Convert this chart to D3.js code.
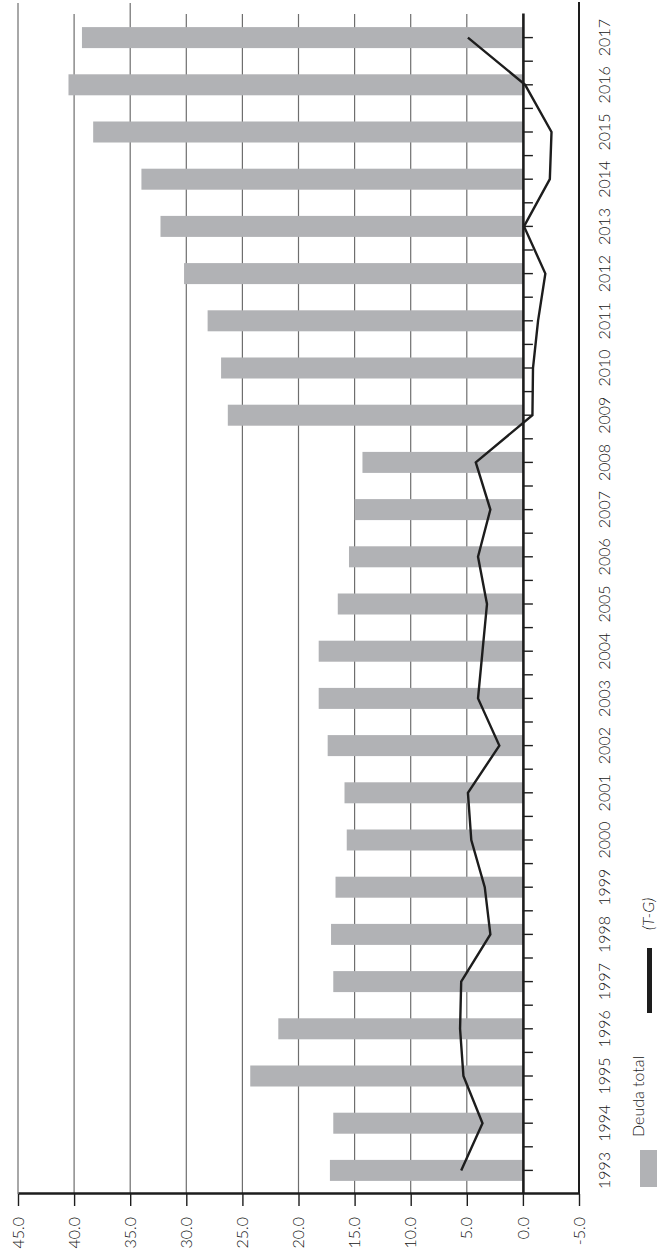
<!DOCTYPE html>
<html>
<head>
<meta charset="utf-8">
<script src="https://cdn.jsdelivr.net/npm/d3@7"></script>
<style>
  html, body { margin: 0; padding: 0; background: #fff; }
  svg { display: block; }
  text { font-family: Lato, "Open Sans", sans-serif; font-weight: 300; fill: #151515; }
</style>
</head>
<body>
<svg id="chart" width="657" height="1260"></svg>
<script>
// Years on the category axis
const years = ["1993","1994","1995","1996","1997","1998","1999","2000","2001","2002","2003","2004","2005",
               "2006","2007","2008","2009","2010","2011","2012","2013","2014","2015","2016","2017"];
// Deuda total (bars)
const deuda = [17.2, 16.9, 24.3, 21.8, 16.9, 17.1, 16.7, 15.7, 15.9, 17.4, 18.2, 18.2, 16.5,
               15.5, 15.0, 14.3, 26.3, 26.9, 28.1, 30.2, 32.3, 34.0, 38.3, 40.5, 39.3];
// (T-G) balance (line)
const tg = [5.5, 3.6, 5.3, 5.6, 5.5, 2.9, 3.4, 4.6, 4.9, 2.1, 4.0, 3.6, 3.2,
            4.0, 2.9, 4.2, -0.85, -0.9, -1.35, -2.0, -0.1, -2.4, -2.55, -0.2, 4.9];
// Value-axis ticks
const valueTicks = [45, 40, 35, 30, 25, 20, 15, 10, 5, 0, -5];
// Legend entries
const legendBar = "Deuda total";
const legendLine = "(T-G)";

const W = 657, H = 1260;
const svg = d3.select("#chart");

// The whole chart is laid out sideways: build it in a 1260x657 frame and turn it a quarter turn.
const g = svg.append("g").attr("transform", `translate(0,${H}) rotate(-90)`);

const x = d3.scaleBand().domain(years).range([66, 1246]).paddingInner(0.555).paddingOuter(0.2775);
const y = d3.scaleLinear().domain([-5, 45]).range([579, 18]);

const barColor = "#b1b2b5";
const ink = "#1d1d1d";
const textColor = "#151515";

// Gridlines
g.append("g").selectAll("line")
  .data(valueTicks.filter(v => v > 0))
  .join("line")
  .attr("x1", 66)
  .attr("x2", d => (d === 45 || d === 35) ? 1257 : 1246)
  .attr("y1", d => y(d)).attr("y2", d => y(d))
  .attr("stroke", "#6e6e6e").attr("stroke-width", 1.2);

// Bars
g.append("g").selectAll("rect")
  .data(years.map((yr, i) => ({ yr, v: deuda[i] })))
  .join("rect")
  .attr("x", d => x(d.yr))
  .attr("width", x.bandwidth())
  .attr("y", d => y(d.v))
  .attr("height", d => y(0) - y(d.v))
  .attr("fill", barColor);

// Right boundary at -5
g.append("line")
  .attr("x1", 66).attr("x2", 1258)
  .attr("y1", y(-5)).attr("y2", y(-5))
  .attr("stroke", ink).attr("stroke-width", 2);

// Zero line with category ticks
const zeroAxis = g.append("g")
  .attr("transform", `translate(0,${y(0)})`)
  .call(d3.axisBottom(x).tickSize(10).tickSizeOuter(0).tickFormat(""));
zeroAxis.select(".domain").attr("stroke", ink).attr("stroke-width", 2.6);
zeroAxis.selectAll(".tick line").attr("stroke", ink).attr("stroke-width", 1.4);
// ticks between categories
zeroAxis.append("g").selectAll("line")
  .data(years.slice(1))
  .join("line")
  .attr("x1", d => x(d) + x.bandwidth() / 2 - x.step() / 2)
  .attr("x2", d => x(d) + x.bandwidth() / 2 - x.step() / 2)
  .attr("y1", 0).attr("y2", 10)
  .attr("stroke", ink).attr("stroke-width", 1.4);

// Year labels
g.append("g").selectAll("text")
  .data(years)
  .join("text")
  .attr("x", d => x(d) + x.bandwidth() / 2)
  .attr("y", 603)
  .attr("text-anchor", "middle")
  .attr("dominant-baseline", "central")
  .attr("font-size", 16)
  .text(d => d);

// Value axis
const valueAxis = g.append("g")
  .attr("transform", "translate(66,0)")
  .call(d3.axisLeft(y).tickValues(valueTicks).tickSize(12).tickSizeOuter(0).tickPadding(11)
    .tickFormat(d => d.toFixed(1)));
valueAxis.select(".domain").attr("stroke", ink).attr("stroke-width", 2.6);
valueAxis.selectAll(".tick line").attr("stroke", ink).attr("stroke-width", 1.4);
valueAxis.selectAll(".tick text").attr("font-size", 16).attr("fill", textColor)
  .attr("font-family", "Lato, 'Open Sans', sans-serif");

// (T-G) line
const line = d3.line()
  .x((d, i) => x(years[i]) + x.bandwidth() / 2)
  .y(d => y(d));
g.append("path")
  .datum(tg)
  .attr("d", line)
  .attr("fill", "none")
  .attr("stroke", ink)
  .attr("stroke-width", 2.4)
  .attr("stroke-linejoin", "miter");

// Legend
const lg = g.append("g");
lg.append("rect").attr("x", 73).attr("y", 640).attr("width", 37).attr("height", 20).attr("fill", barColor);
lg.append("text").attr("x", 123).attr("y", 644).attr("font-size", 16).text(legendBar);
lg.append("line").attr("x1", 247).attr("x2", 312).attr("y1", 649.5).attr("y2", 649.5)
  .attr("stroke", ink).attr("stroke-width", 5);
lg.append("text").attr("x", 330).attr("y", 654).attr("font-size", 16).attr("font-style", "italic").text(legendLine);
</script>
</body>
</html>
